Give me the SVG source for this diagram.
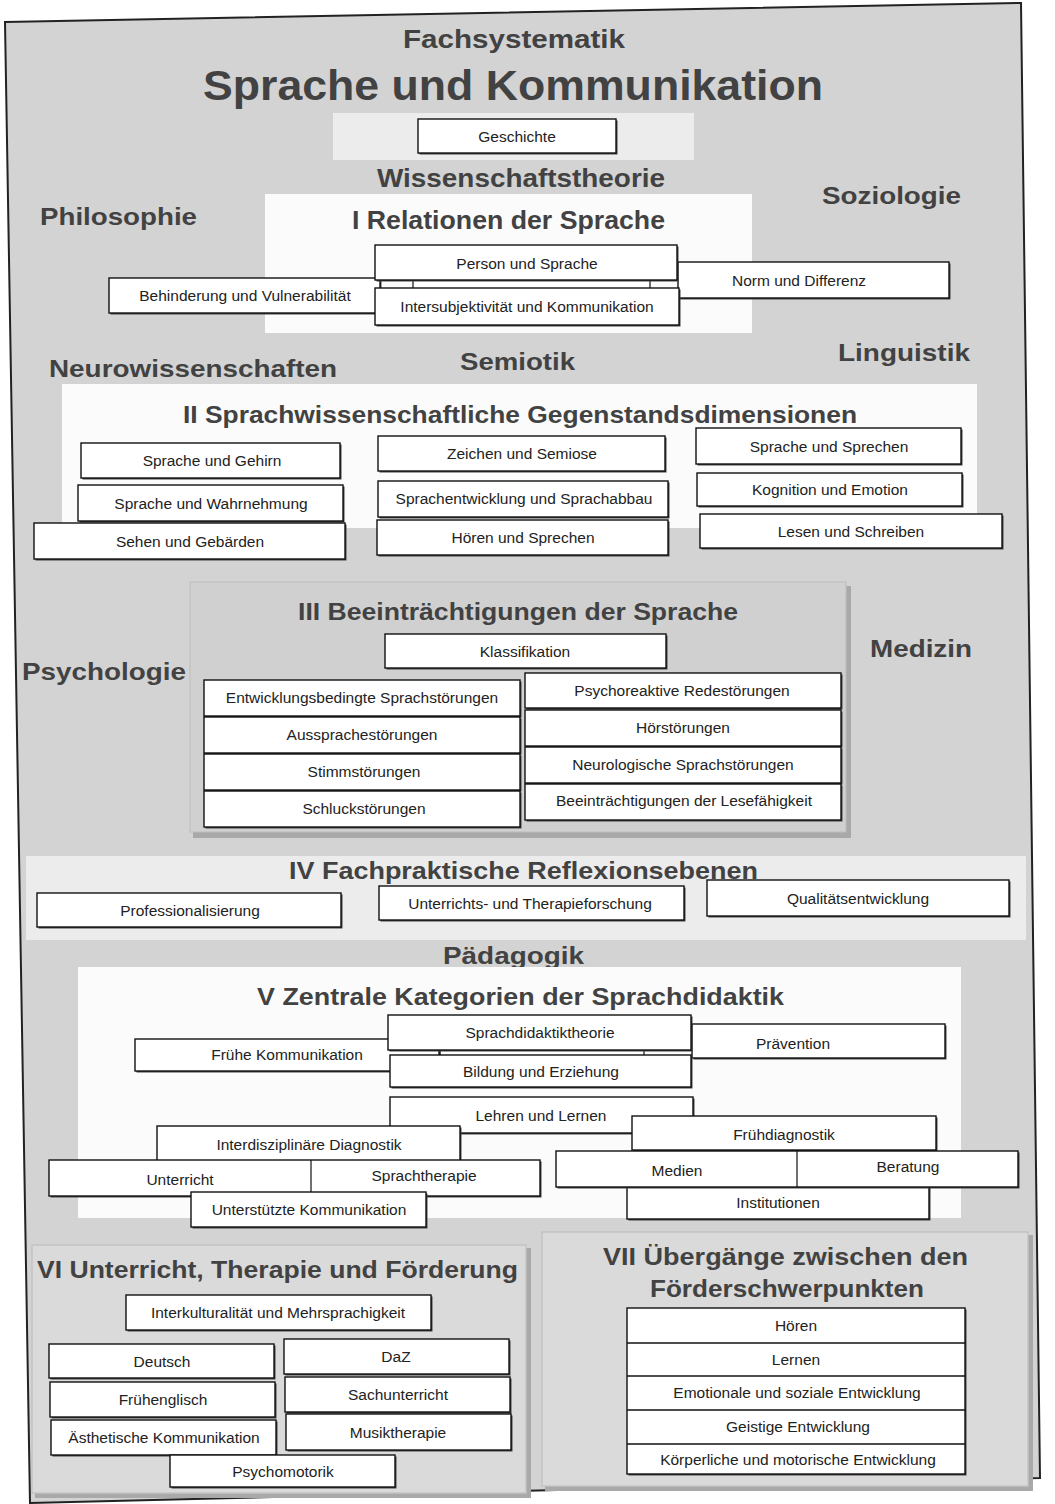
<svg xmlns="http://www.w3.org/2000/svg" width="1055" height="1504" viewBox="0 0 1055 1504">
<style>
.page{fill:#d3d3d3;stroke:#222;stroke-width:2}
.pw{fill:#fbfbfb}
.pl{fill:#ececec}
.pg{fill:#d0d0d0;stroke:#bdbdbd;stroke-width:1}
.pv{fill:#dadada;stroke:#c4c4c4;stroke-width:1.5}
.psh{fill:#a9a9a9}
.box{fill:#fff;stroke:#111;stroke-width:1.4}
.sh{fill:#444}
.bt{font-family:"Liberation Sans Narrow","Liberation Sans",Arial,sans-serif;font-size:15.5px;fill:#222;text-anchor:middle}
.h{font-family:"Liberation Sans",Arial,sans-serif;font-weight:bold;fill:#424242}
.lk{fill:#fff;stroke:#111;stroke-width:1.2}
</style>
<rect width="1055" height="1504" fill="#fff"/>
<polygon class="page" points="5,22 1021,3 1040,1478 30,1503"/>

<g id="titles">
<text class="h" x="514" y="48" font-size="25" text-anchor="middle" textLength="222" lengthAdjust="spacingAndGlyphs">Fachsystematik</text>
<text class="h" x="513" y="100" font-size="42" text-anchor="middle" textLength="620" lengthAdjust="spacingAndGlyphs">Sprache und Kommunikation</text>
<text class="h" x="521" y="187" font-size="25" text-anchor="middle" textLength="288" lengthAdjust="spacingAndGlyphs">Wissenschaftstheorie</text>
<text class="h" x="40" y="225" font-size="24" textLength="157" lengthAdjust="spacingAndGlyphs">Philosophie</text>
<text class="h" x="822" y="204" font-size="24" textLength="139" lengthAdjust="spacingAndGlyphs">Soziologie</text>
<text class="h" x="49" y="377" font-size="24" textLength="288" lengthAdjust="spacingAndGlyphs">Neurowissenschaften</text>
<text class="h" x="460" y="370" font-size="24" textLength="115" lengthAdjust="spacingAndGlyphs">Semiotik</text>
<text class="h" x="838" y="361" font-size="24" textLength="132" lengthAdjust="spacingAndGlyphs">Linguistik</text>
<text class="h" x="22" y="680" font-size="24" textLength="164" lengthAdjust="spacingAndGlyphs">Psychologie</text>
<text class="h" x="870" y="657" font-size="24" textLength="102" lengthAdjust="spacingAndGlyphs">Medizin</text>
<text class="h" x="443" y="964" font-size="24" textLength="141" lengthAdjust="spacingAndGlyphs">Pädagogik</text>
</g>

<g id="panels">
<rect class="pl" x="333" y="113" width="361" height="47"/>
<rect class="pw" x="265" y="194" width="487" height="139"/>
<rect class="pw" x="62" y="384" width="915" height="144"/>
<rect class="psh" x="193" y="586" width="658" height="252"/>
<rect class="pg" x="190" y="582" width="656" height="250"/>
<rect class="pl" x="26" y="856" width="1000" height="84"/>
<rect class="pw" x="78" y="967" width="883" height="251"/>
<rect class="psh" x="35" y="1248" width="496" height="250"/>
<rect class="pv" x="32" y="1245" width="494" height="248"/>
<rect class="psh" x="545" y="1235" width="488" height="256"/>
<rect class="pv" x="542" y="1232" width="486" height="254"/>
</g>

<g id="panel-headings">
<text class="h" x="352" y="229" font-size="25" textLength="313" lengthAdjust="spacingAndGlyphs">I  Relationen der Sprache</text>
<text class="h" x="183" y="423" font-size="24" textLength="674" lengthAdjust="spacingAndGlyphs">II  Sprachwissenschaftliche Gegenstandsdimensionen</text>
<text class="h" x="298" y="620" font-size="24" textLength="440" lengthAdjust="spacingAndGlyphs">III  Beeinträchtigungen der Sprache</text>
<text class="h" x="289" y="879" font-size="24" textLength="469" lengthAdjust="spacingAndGlyphs">IV   Fachpraktische Reflexionsebenen</text>
<text class="h" x="257" y="1005" font-size="24" textLength="527" lengthAdjust="spacingAndGlyphs">V   Zentrale Kategorien der Sprachdidaktik</text>
<text class="h" x="37" y="1278" font-size="24" textLength="481" lengthAdjust="spacingAndGlyphs">VI  Unterricht, Therapie und Förderung</text>
<text class="h" x="603" y="1265" font-size="24" textLength="365" lengthAdjust="spacingAndGlyphs">VII   Übergänge zwischen den</text>
<text class="h" x="650" y="1297" font-size="24" textLength="274" lengthAdjust="spacingAndGlyphs">Förderschwerpunkten</text>
</g>

<g id="connectors">
<rect class="lk" x="413" y="279" width="237" height="10"/>
<rect class="lk" x="440" y="1049" width="204" height="8"/>
</g>

<g id="n-geschichte"><rect class="sh" x="419.5" y="120.5" width="198" height="34"/><rect class="box" x="418" y="119" width="198" height="34"/><text class="bt" x="517" y="142">Geschichte</text></g>

<g id="n-behinderung"><rect class="sh" x="110.5" y="279.5" width="271" height="35"/><rect class="box" x="109" y="278" width="271" height="35"/><text class="bt" x="245" y="301">Behinderung und Vulnerabilität</text></g>
<g id="n-norm"><rect class="sh" x="679.5" y="263.5" width="271" height="36"/><rect class="box" x="678" y="262" width="271" height="36"/><text class="bt" x="799" y="286">Norm und Differenz</text></g>
<g id="n-person"><rect class="sh" x="376.5" y="246.5" width="302" height="35"/><rect class="box" x="375" y="245" width="302" height="35"/><text class="bt" x="527" y="269">Person und Sprache</text></g>
<g id="n-intersubjektivitaet"><rect class="sh" x="376.5" y="289.5" width="304" height="37"/><rect class="box" x="375" y="288" width="304" height="37"/><text class="bt" x="527" y="312">Intersubjektivität und Kommunikation</text></g>

<g id="n-gehirn"><rect class="sh" x="82.5" y="444.5" width="259" height="35"/><rect class="box" x="81" y="443" width="259" height="35"/><text class="bt" x="212" y="466">Sprache und Gehirn</text></g>
<g id="n-wahrnehmung"><rect class="sh" x="79.5" y="486.5" width="265" height="36"/><rect class="box" x="78" y="485" width="265" height="36"/><text class="bt" x="211" y="509">Sprache und Wahrnehmung</text></g>
<g id="n-sehen"><rect class="sh" x="35.5" y="524.5" width="311" height="36"/><rect class="box" x="34" y="523" width="311" height="36"/><text class="bt" x="190" y="547">Sehen und Gebärden</text></g>
<g id="n-zeichen"><rect class="sh" x="379.5" y="437.5" width="287" height="35"/><rect class="box" x="378" y="436" width="287" height="35"/><text class="bt" x="522" y="459">Zeichen und Semiose</text></g>
<g id="n-sprachentwicklung"><rect class="sh" x="379.5" y="482.5" width="290" height="36"/><rect class="box" x="378" y="481" width="290" height="36"/><text class="bt" x="524" y="504">Sprachentwicklung und Sprachabbau</text></g>
<g id="n-hoeren-sprechen"><rect class="sh" x="378.5" y="521.5" width="291" height="35"/><rect class="box" x="377" y="520" width="291" height="35"/><text class="bt" x="523" y="543">Hören und Sprechen</text></g>
<g id="n-sprache-sprechen"><rect class="sh" x="697.5" y="429.5" width="265" height="36"/><rect class="box" x="696" y="428" width="265" height="36"/><text class="bt" x="829" y="452">Sprache und Sprechen</text></g>
<g id="n-kognition"><rect class="sh" x="698.5" y="474.5" width="265" height="33"/><rect class="box" x="697" y="473" width="265" height="33"/><text class="bt" x="830" y="495">Kognition und Emotion</text></g>
<g id="n-lesen"><rect class="sh" x="701.5" y="515.5" width="302" height="34"/><rect class="box" x="700" y="514" width="302" height="34"/><text class="bt" x="851" y="537">Lesen und Schreiben</text></g>

<g id="n-klassifikation"><rect class="sh" x="386.5" y="635.5" width="281" height="34"/><rect class="box" x="385" y="634" width="281" height="34"/><text class="bt" x="525" y="657">Klassifikation</text></g>
<g id="n-entwicklungsbedingt"><rect class="sh" x="205.5" y="681.5" width="316" height="36"/><rect class="box" x="204" y="680" width="316" height="36"/><text class="bt" x="362" y="703">Entwicklungsbedingte Sprachstörungen</text></g>
<g id="n-aussprache"><rect class="sh" x="205.5" y="718.5" width="316" height="36"/><rect class="box" x="204" y="717" width="316" height="36"/><text class="bt" x="362" y="740">Aussprachestörungen</text></g>
<g id="n-stimm"><rect class="sh" x="205.5" y="755.5" width="316" height="36"/><rect class="box" x="204" y="754" width="316" height="36"/><text class="bt" x="364" y="777">Stimmstörungen</text></g>
<g id="n-schluck"><rect class="sh" x="205.5" y="792.5" width="316" height="36"/><rect class="box" x="204" y="791" width="316" height="36"/><text class="bt" x="364" y="814">Schluckstörungen</text></g>
<g id="n-psychoreaktiv"><rect class="sh" x="526.5" y="674.5" width="316" height="35"/><rect class="box" x="525" y="673" width="316" height="35"/><text class="bt" x="682" y="696">Psychoreaktive Redestörungen</text></g>
<g id="n-hoerstoerungen"><rect class="sh" x="526.5" y="711.5" width="316" height="36"/><rect class="box" x="525" y="710" width="316" height="36"/><text class="bt" x="683" y="733">Hörstörungen</text></g>
<g id="n-neurologisch"><rect class="sh" x="526.5" y="748.5" width="316" height="36"/><rect class="box" x="525" y="747" width="316" height="36"/><text class="bt" x="683" y="770">Neurologische Sprachstörungen</text></g>
<g id="n-lesefaehigkeit"><rect class="sh" x="526.5" y="785.5" width="316" height="36"/><rect class="box" x="525" y="784" width="316" height="36"/><text class="bt" x="684" y="806">Beeinträchtigungen der Lesefähigkeit</text></g>

<g id="n-professionalisierung"><rect class="sh" x="38.5" y="894.5" width="304" height="34"/><rect class="box" x="37" y="893" width="304" height="34"/><text class="bt" x="190" y="916">Professionalisierung</text></g>
<g id="n-forschung"><rect class="sh" x="380.5" y="887.5" width="305" height="34"/><rect class="box" x="379" y="886" width="305" height="34"/><text class="bt" x="530" y="909">Unterrichts- und Therapieforschung</text></g>
<g id="n-qualitaet"><rect class="sh" x="708.5" y="881.5" width="302" height="36"/><rect class="box" x="707" y="880" width="302" height="36"/><text class="bt" x="858" y="904">Qualitätsentwicklung</text></g>

<g id="n-fruehe-kommunikation"><rect class="sh" x="136.5" y="1040.5" width="304" height="32"/><rect class="box" x="135" y="1039" width="304" height="32"/><text class="bt" x="287" y="1060">Frühe Kommunikation</text></g>
<g id="n-praevention"><rect class="sh" x="693.5" y="1025.5" width="253" height="34"/><rect class="box" x="692" y="1024" width="253" height="34"/><text class="bt" x="793" y="1049">Prävention</text></g>
<g id="n-sprachdidaktiktheorie"><rect class="sh" x="389.5" y="1016.5" width="303" height="35"/><rect class="box" x="388" y="1015" width="303" height="35"/><text class="bt" x="540" y="1038">Sprachdidaktiktheorie</text></g>
<g id="n-bildung"><rect class="sh" x="391.5" y="1056.5" width="301" height="32"/><rect class="box" x="390" y="1055" width="301" height="32"/><text class="bt" x="541" y="1077">Bildung und Erziehung</text></g>
<g id="n-lehren"><rect class="sh" x="391.5" y="1098.5" width="303" height="36"/><rect class="box" x="390" y="1097" width="303" height="36"/><text class="bt" x="541" y="1121">Lehren und Lernen</text></g>
<g id="n-interdisziplinaer"><rect class="sh" x="158.5" y="1127.5" width="303" height="36"/><rect class="box" x="157" y="1126" width="303" height="36"/><text class="bt" x="309" y="1150">Interdisziplinäre Diagnostik</text></g>
<g id="n-fruehdiagnostik"><rect class="sh" x="633.5" y="1117.5" width="304" height="34"/><rect class="box" x="632" y="1116" width="304" height="34"/><text class="bt" x="784" y="1140">Frühdiagnostik</text></g>
<g id="n-unterricht-sprachtherapie"><rect class="sh" x="50.5" y="1161.5" width="491" height="36"/><rect class="box" x="49" y="1160" width="491" height="36"/><line x1="311" y1="1160" x2="311" y2="1196" stroke="#111" stroke-width="1.2"/><text class="bt" x="180" y="1185">Unterricht</text><text class="bt" x="424" y="1181">Sprachtherapie</text></g>
<g id="n-unterstuetzte"><rect class="sh" x="192.5" y="1193.5" width="235" height="35"/><rect class="box" x="191" y="1192" width="235" height="35"/><text class="bt" x="309" y="1215">Unterstützte Kommunikation</text></g>
<g id="n-institutionen"><rect class="sh" x="628.5" y="1187.5" width="302" height="33"/><rect class="box" x="627" y="1186" width="302" height="33"/><text class="bt" x="778" y="1208">Institutionen</text></g>
<g id="n-medien-beratung"><rect class="sh" x="557.5" y="1152.5" width="462" height="36"/><rect class="box" x="556" y="1151" width="462" height="36"/><line x1="797" y1="1151" x2="797" y2="1187" stroke="#111" stroke-width="1.2"/><text class="bt" x="677" y="1176">Medien</text><text class="bt" x="908" y="1172">Beratung</text></g>

<g id="n-interkulturalitaet"><rect class="sh" x="127.5" y="1296.5" width="305" height="35"/><rect class="box" x="126" y="1295" width="305" height="35"/><text class="bt" x="278" y="1318">Interkulturalität und Mehrsprachigkeit</text></g>
<g id="n-deutsch"><rect class="sh" x="50.5" y="1345.5" width="225" height="34"/><rect class="box" x="49" y="1344" width="225" height="34"/><text class="bt" x="162" y="1367">Deutsch</text></g>
<g id="n-daz"><rect class="sh" x="285.5" y="1340.5" width="225" height="35"/><rect class="box" x="284" y="1339" width="225" height="35"/><text class="bt" x="396" y="1362">DaZ</text></g>
<g id="n-fruehenglisch"><rect class="sh" x="51.5" y="1383.5" width="225" height="35"/><rect class="box" x="50" y="1382" width="225" height="35"/><text class="bt" x="163" y="1405">Frühenglisch</text></g>
<g id="n-sachunterricht"><rect class="sh" x="286.5" y="1378.5" width="225" height="35"/><rect class="box" x="285" y="1377" width="225" height="35"/><text class="bt" x="398" y="1400">Sachunterricht</text></g>
<g id="n-aesthetisch"><rect class="sh" x="52.5" y="1421.5" width="225" height="35"/><rect class="box" x="51" y="1420" width="225" height="35"/><text class="bt" x="164" y="1443">Ästhetische Kommunikation</text></g>
<g id="n-musiktherapie"><rect class="sh" x="287.5" y="1415.5" width="225" height="36"/><rect class="box" x="286" y="1414" width="225" height="36"/><text class="bt" x="398" y="1438">Musiktherapie</text></g>
<g id="n-psychomotorik"><rect class="sh" x="171.5" y="1456.5" width="225" height="32"/><rect class="box" x="170" y="1455" width="225" height="32"/><text class="bt" x="283" y="1477">Psychomotorik</text></g>

<g id="n-foerderschwerpunkte">
<rect class="sh" x="628.5" y="1309.5" width="338" height="166"/>
<rect class="box" x="627" y="1308" width="338" height="166"/>
<line x1="627" y1="1343" x2="965" y2="1343" stroke="#111" stroke-width="1.4"/>
<line x1="627" y1="1376" x2="965" y2="1376" stroke="#111" stroke-width="1.4"/>
<line x1="627" y1="1410" x2="965" y2="1410" stroke="#111" stroke-width="1.4"/>
<line x1="627" y1="1444" x2="965" y2="1444" stroke="#111" stroke-width="1.4"/>
</g>
<g id="n-hoeren"><text class="bt" x="796" y="1331">Hören</text></g>
<g id="n-lernen"><text class="bt" x="796" y="1365">Lernen</text></g>
<g id="n-emotionale"><text class="bt" x="797" y="1398">Emotionale und soziale Entwicklung</text></g>
<g id="n-geistige"><text class="bt" x="798" y="1432">Geistige Entwicklung</text></g>
<g id="n-koerperliche"><text class="bt" x="798" y="1465">Körperliche und motorische Entwicklung</text></g>
</svg>
